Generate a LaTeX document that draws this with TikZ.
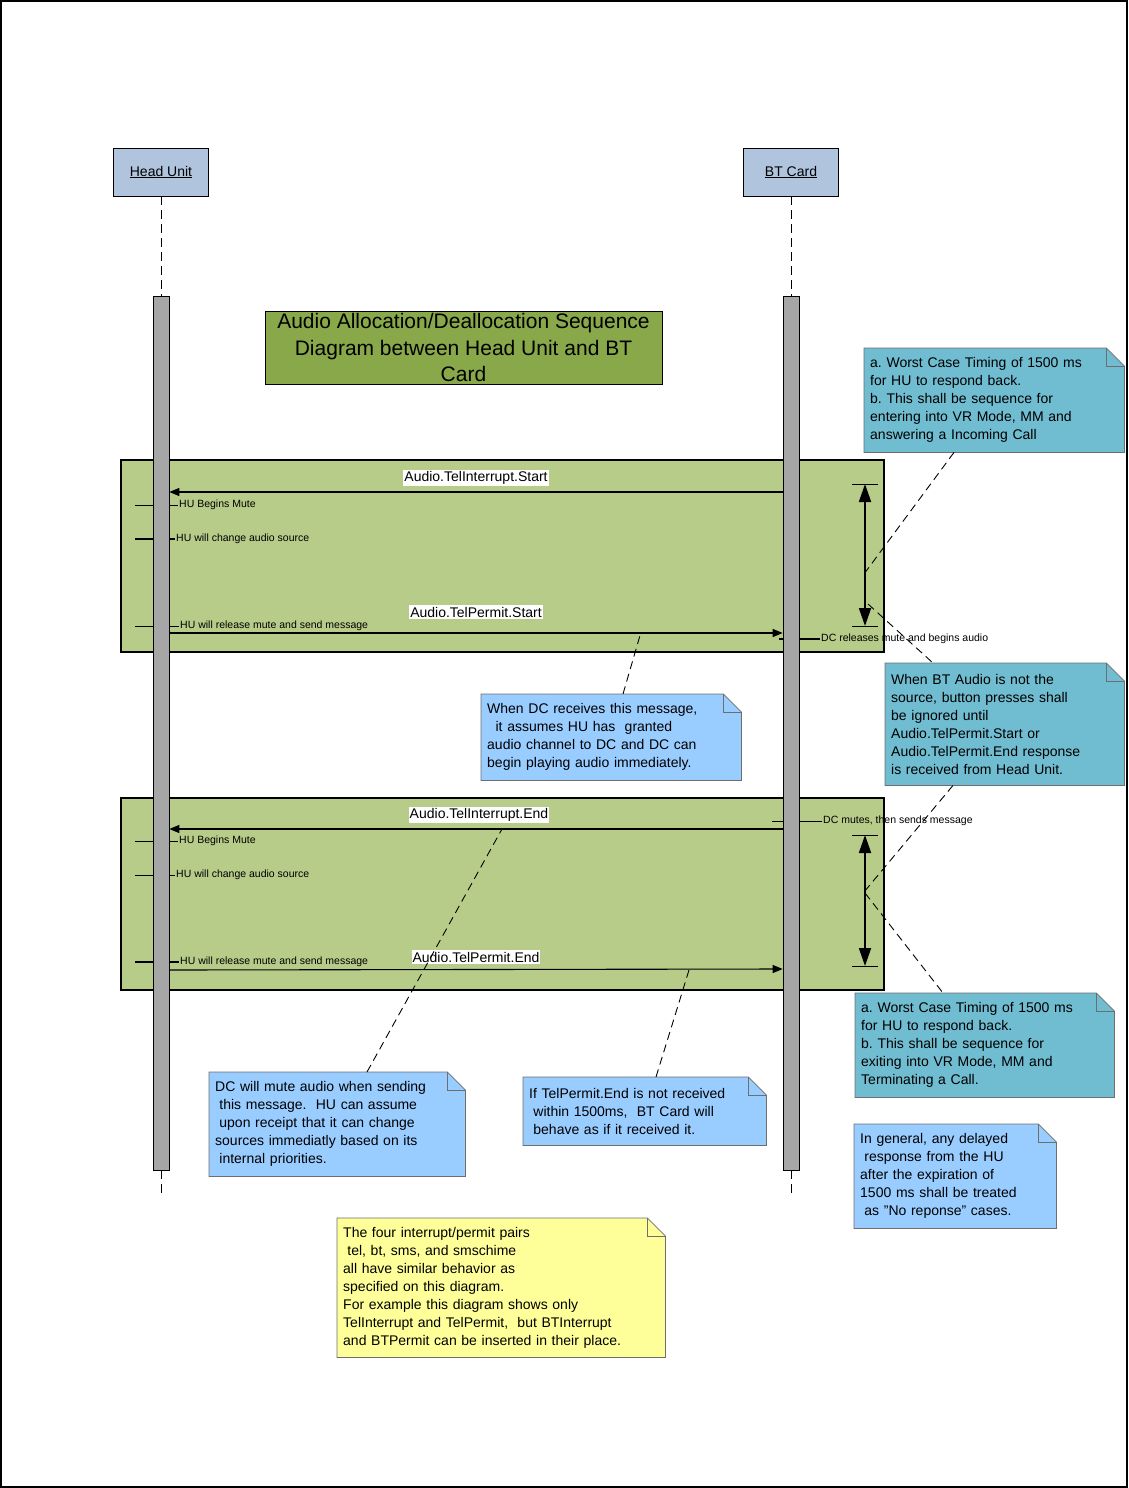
\documentclass[tikz,border=0pt]{standalone}
\usepackage{fontspec}
\setmainfont{Liberation Sans}
\usetikzlibrary{arrows.meta,backgrounds}
\frenchspacing
\definecolor{headblue}{RGB}{176,196,222}
\definecolor{bargray}{RGB}{166,166,166}
\definecolor{framegreen}{RGB}{184,204,138}
\definecolor{titlegreen}{RGB}{136,168,74}
\definecolor{tealnote}{RGB}{112,188,208}
\definecolor{bluenote}{RGB}{153,204,255}
\definecolor{yellownote}{RGB}{255,255,153}
\definecolor{notegray}{RGB}{110,110,110}
\newcommand\lsp{\hspace*{0.3em}}
\newcommand\drawnote[2]{%
  \filldraw[fill=#2, draw=notegray, line width=0.8pt]
    (#1.north west) -- ([xshift=-18pt]#1.north east) -- ([yshift=-18pt]#1.north east)
    -- (#1.south east) -- (#1.south west) -- cycle;
  \draw[draw=notegray, line width=0.8pt]
    ([xshift=-18pt]#1.north east) -- ([xshift=-18pt,yshift=-18pt]#1.north east) -- ([yshift=-18pt]#1.north east);
}
\begin{document}
\frenchspacing
\begin{tikzpicture}[x=1pt,y=-1pt,
  headbox/.style={draw=black, line width=0.8pt, fill=headblue, minimum width=95pt, minimum height=48pt, font=\fontsize{14}{16}\selectfont},
  actbar/.style={draw=black, line width=0.6pt, fill=bargray, minimum width=16pt, minimum height=874pt, inner sep=0pt},
  life/.style={draw=black, line width=0.7pt, dash pattern=on 9pt off 5pt},
  framebox/.style={draw=black, line width=1.8pt, fill=framegreen, anchor=north west, minimum width=763pt, minimum height=192pt, inner sep=0pt},
  msg/.style={draw=black, line width=1.1pt, -{Triangle[length=10pt,width=8pt]}},
  msglabel/.style={fill=white, inner xsep=1pt, inner ysep=1.5pt, font=\fontsize{14}{16}\selectfont},
  smalltxt/.style={anchor=west, inner sep=1pt, font=\fontsize{10.5}{12}\selectfont},
  tickthin/.style={draw=black, line width=0.8pt},
  tickthick/.style={draw=black, line width=1.8pt},
  vspan/.style={draw=black, line width=1.8pt, {Triangle[length=18pt,width=12pt]}-{Triangle[length=18pt,width=12pt]}},
  conn/.style={draw=black, line width=0.9pt, dash pattern=on 8pt off 5pt},
  note/.style={anchor=north west, inner xsep=6pt, inner ysep=0pt, align=left, font=\fontsize{14}{18}\selectfont}
]
\useasboundingbox (0,0) rectangle (1128,1488);
\draw[line width=2pt] (1,1) rectangle (1127,1487);

% lifeline heads
\node[headbox] (hu) at (161,172) {\underline{Head Unit}};
\node[headbox] (bt) at (791,172) {\underline{BT Card}};

% title
\node[draw=black, line width=0.8pt, fill=titlegreen, minimum width=397pt, minimum height=73pt, align=center,
      font=\fontsize{21}{26.5}\selectfont, inner sep=0pt] (title) at (463.5,347.5)
  {Audio Allocation/Deallocation Sequence\\Diagram between Head Unit and BT\\Card};

% frames
\node[framebox] (frame1) at (120,459) {};
\node[framebox] (frame2) at (120,797) {};

% activity tick labels (under the bars)
\node[smalltxt] (a1) at (178,505) {HU Begins Mute};
\coordinate (a1s) at (135,505);
\draw[tickthin] (a1s) -- (a1.west);
\node[smalltxt] (a2) at (175,539) {HU will change audio source};
\coordinate (a2s) at (135,539);
\draw[tickthick] (a2s) -- (a2.west);
\node[smalltxt] (a3) at (179,626) {HU will release mute and send message};
\coordinate (a3s) at (135,626);
\draw[tickthin] (a3s) -- (a3.west);
\node[smalltxt] (a4) at (820,639) {DC releases mute and begins audio};
\coordinate (a4s) at (779,639);
\draw[tickthick] (a4s) -- (a4.west);

\node[smalltxt] (b0) at (822,821) {DC mutes, then sends message};
\coordinate (b0s) at (772,821);
\draw[tickthin] (b0s) -- (b0.west);
\node[smalltxt] (b1) at (178,841) {HU Begins Mute};
\coordinate (b1s) at (135,841);
\draw[tickthin] (b1s) -- (b1.west);
\node[smalltxt] (b2) at (175,875) {HU will change audio source};
\coordinate (b2s) at (135,875);
\draw[tickthin] (b2s) -- (b2.west);
\node[smalltxt] (b3) at (179,962) {HU will release mute and send message};
\coordinate (b3s) at (135,962);
\draw[tickthick] (b3s) -- (b3.west);

% activation bars and lifelines
\node[actbar] (hubar) at (161,733) {};
\node[actbar] (btbar) at (791,733) {};
\coordinate (huend) at (161,1198);
\coordinate (btend) at (791,1198);
\draw[life] (hu.south) -- (hubar.north);
\draw[life] (bt.south) -- (btbar.north);
\draw[life] (hubar.south) -- (huend);
\draw[life] (btbar.south) -- (btend);

% messages
\draw[msg] (btbar.west |- 0,492) -- (hubar.east |- 0,492);
\node[msglabel] (m1) at (476,478) {Audio.TelInterrupt.Start};
\draw[msg] (hubar.east |- 0,633) -- (btbar.west |- 0,633);
\node[msglabel] (m2) at (476,612) {Audio.TelPermit.Start};
\draw[msg] (btbar.west |- 0,829) -- (hubar.east |- 0,829);
\node[msglabel] (m3) at (479,815) {Audio.TelInterrupt.End};
\draw[msg] (hubar.east |- 0,970) -- (btbar.west |- 0,969);
\node[msglabel] (m4) at (476,957) {Audio.TelPermit.End};

% timing spans
\coordinate (v1t) at (865,484);
\coordinate (v1b) at (865,626);
\draw[tickthin] (852,484) -- (878,484);
\draw[tickthin] (852,626) -- (878,626);
\draw[vspan] (v1t) -- (v1b);
\coordinate (v2t) at (865,835);
\coordinate (v2b) at (865,966);
\draw[tickthin] (852,835) -- (878,835);
\draw[tickthin] (852,966) -- (878,966);
\draw[vspan] (v2t) -- (v2b);

% notes
\node[note, minimum width=260pt, minimum height=104pt, text width=248pt] (n1) at (864,348)
  {a. Worst Case Timing of 1500 ms\\for HU to respond back.\\b. This shall be sequence for\\entering into VR Mode, MM and\\answering a Incoming Call};
\node[note, minimum width=239pt, minimum height=122pt, text width=227pt] (n2) at (885,663)
  {When BT Audio is not the\\source, button presses shall\\be ignored until\\Audio.TelPermit.Start or\\Audio.TelPermit.End response\\is received from Head Unit.};
\node[note, minimum width=259pt, minimum height=104pt, text width=247pt] (n3) at (855,993)
  {a. Worst Case Timing of 1500 ms\\for HU to respond back.\\b. This shall be sequence for\\exiting into VR Mode, MM and\\Terminating a Call.};
\node[note, minimum width=202pt, minimum height=104pt, text width=190pt] (n4) at (854,1124)
  {In general, any delayed\\\lsp response from the HU\\after the expiration of\\1500 ms shall be treated\\\lsp as "No reponse" cases.};
\node[note, minimum width=260pt, minimum height=86pt, text width=248pt] (n5) at (481,694)
  {When DC receives this message,\\\lsp\lsp it assumes HU has\ \ granted\\audio channel to DC and DC can\\begin playing audio immediately.};
\node[note, minimum width=256pt, minimum height=104pt, text width=244pt] (n6) at (209,1072)
  {DC will mute audio when sending\\\lsp this message.\ \ HU can assume\\\lsp upon receipt that it can change\\sources immediatly based on its\\\lsp internal priorities.};
\node[note, minimum width=243pt, minimum height=68pt, text width=231pt] (n7) at (523,1077)
  {If TelPermit.End is not received\\\lsp within 1500ms,\ \ BT Card will\\\lsp behave as if it received it.};
\node[note, minimum width=328pt, minimum height=139pt, text width=316pt] (n8) at (337,1218)
  {The four interrupt/permit pairs\\\lsp tel, bt, sms, and smschime\\all have similar behavior as\\specified on this diagram.\\For example this diagram shows only\\TelInterrupt and TelPermit,\ \ but BTInterrupt\\and BTPermit can be inserted in their place.};

\begin{pgfonlayer}{background}
  \drawnote{n1}{tealnote}
  \drawnote{n2}{tealnote}
  \drawnote{n3}{tealnote}
  \drawnote{n4}{bluenote}
  \drawnote{n5}{bluenote}
  \drawnote{n6}{bluenote}
  \drawnote{n7}{bluenote}
  \drawnote{n8}{yellownote}
\end{pgfonlayer}

% note connectors
\coordinate (c1) at (864,574);
\coordinate (c2) at (868,604);
\coordinate (c3) at (864,892);
\coordinate (c4) at (865,893);
\coordinate (c5) at (641,632);
\coordinate (c6) at (502,829);
\coordinate (c7) at (689,970);
\draw[conn] ([xshift=90pt]n1.south west) -- (c1);
\draw[conn] (c2) -- ([xshift=48pt]n2.north west);
\draw[conn] ([xshift=68pt]n2.south west) -- (c3);
\draw[conn] (c4) -- ([xshift=88pt]n3.north west);
\draw[conn] ([xshift=142pt]n5.north west) -- (c5);
\draw[conn] ([xshift=158pt]n6.north west) -- (c6);
\draw[conn] ([xshift=133pt]n7.north west) -- (c7);
\end{tikzpicture}
\end{document}
